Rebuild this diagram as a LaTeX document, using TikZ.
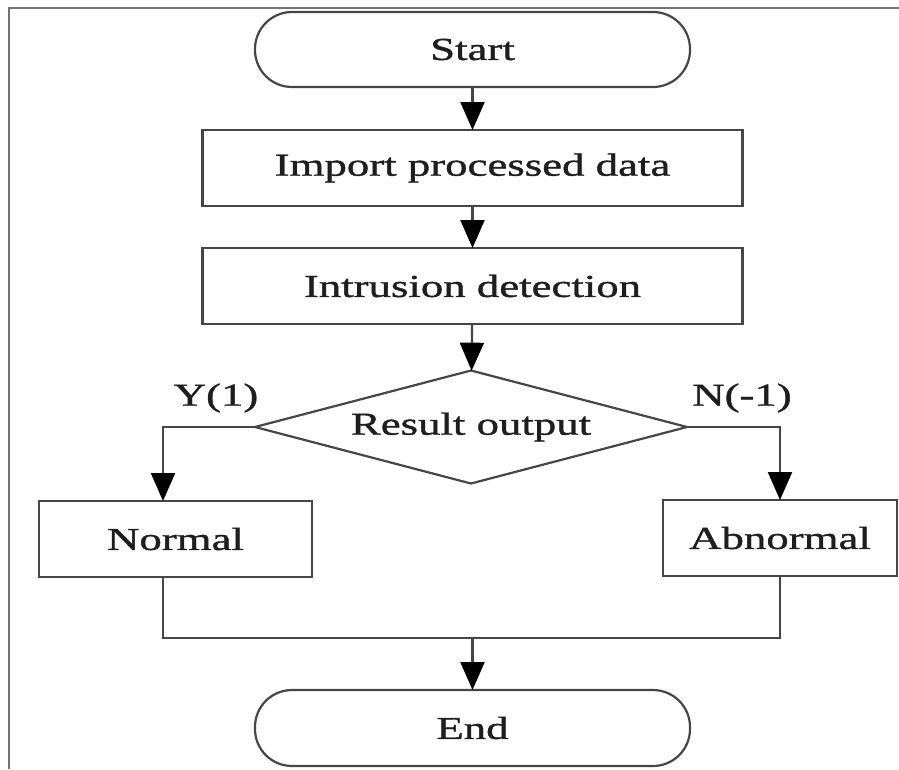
\documentclass[tikz,border=0pt]{standalone}
\usepackage{fontspec}
\setmainfont{Liberation Serif}[FakeStretch=1.4,FakeBold=1.2]
\usetikzlibrary{arrows.meta,shapes.geometric}
\definecolor{linecol}{RGB}{70,70,70}
\definecolor{textcol}{RGB}{30,30,30}
\definecolor{framecol}{RGB}{115,115,115}
\begin{document}
\begin{tikzpicture}[x=1pt,y=-1pt,
  base/.style={draw=linecol,line width=2.2pt,inner sep=0pt,outer sep=0pt,
    text=textcol,font=\fontsize{32}{36}\selectfont},
  terminal/.style={base,rectangle,rounded corners=37pt},
  process/.style={base,rectangle},
  decision/.style={base,diamond,aspect=3.8},
  label/.style={text=textcol,font=\fontsize{32}{36}\selectfont,inner sep=0pt},
  flow/.style={draw=linecol,line width=2.2pt},
  arrow/.style={flow,-{Triangle[length=28pt,width=24pt,color=black]}}]
\useasboundingbox (0,0) rectangle (899,769);
% outer frame
\draw[framecol,line width=2pt] (9,769) -- (9,8) -- (899,8);

% nodes
\node[terminal,minimum width=435pt,minimum height=75pt] (start) at (472.5,49.5) {Start};
\node[process,minimum width=540pt,minimum height=76pt] (import) at (472.5,168) {Import processed data};
\node[process,minimum width=540pt,minimum height=76pt] (intr) at (472.5,286) {Intrusion detection};
\node[decision,minimum width=432pt,minimum height=113pt] (dec) at (471,427) {Result output};
\node[process,minimum width=273pt,minimum height=76pt] (normal) at (175.5,539) {Normal};
\node[process,minimum width=234pt,minimum height=76pt] (abn) at (780,538) {Abnormal};
\node[terminal,minimum width=435pt,minimum height=76pt] (end) at (472.5,728) {End};

\node[label] (ylab) at (216,398) {Y(1)};
\node[label] (nlab) at (742,398) {N(-1)};

% connector anchors on the Normal box
\coordinate (ntop) at (163,501);
\coordinate (nbot) at (163,577);
\coordinate (join) at (472.5,638);

% connectors
\draw[arrow] (start) -- (import);
\draw[arrow] (import) -- (intr);
\draw[arrow] (intr) -- (dec);
\draw[arrow] (dec.west) -| (ntop);
\draw[arrow] (dec.east) -| (abn.north);
\draw[flow] (nbot) -- (nbot |- join) -- (abn.south |- join) -- (abn.south);
\draw[arrow] (join) -- (end);
\end{tikzpicture}
\end{document}
